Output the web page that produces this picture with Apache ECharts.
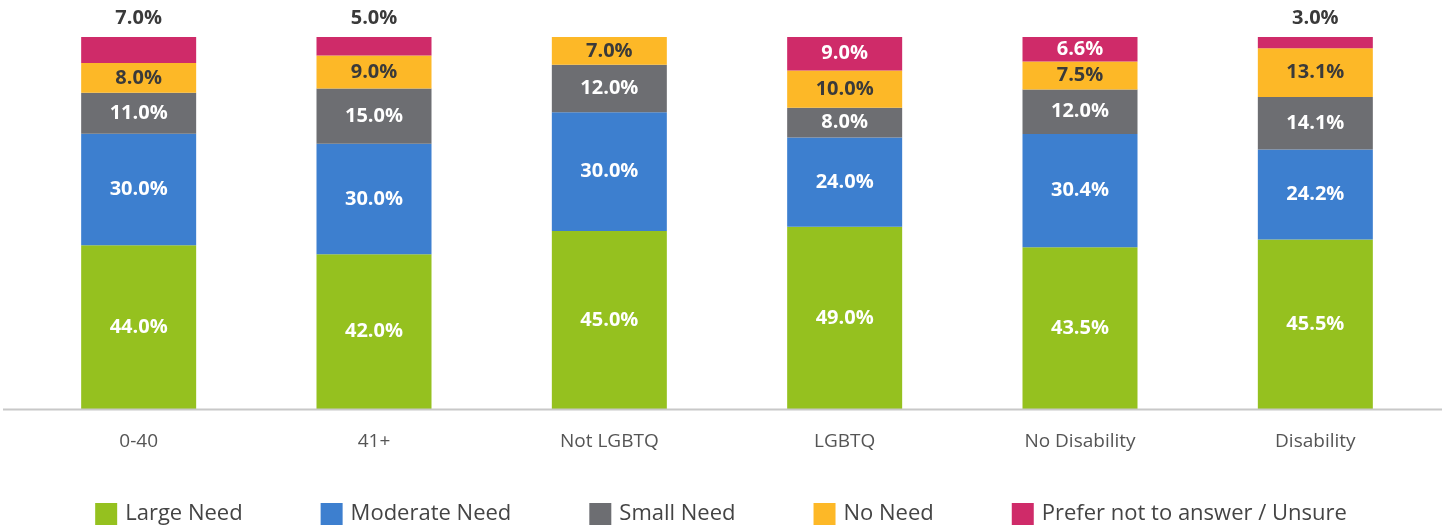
<!DOCTYPE html>
<html>
<head>
<meta charset="utf-8">
<title>Need by group</title>
<style>
  html, body { margin: 0; padding: 0; background: #fff; }
  #main { width: 1442px; height: 529px; }
</style>
</head>
<body>
<div id="main"></div>
<script src="https://cdn.jsdelivr.net/npm/echarts@6/dist/echarts.min.js"></script>
<script>
// data (labels are the raw shares; bars are drawn as 100% stacks)
var categories   = ['0-40', '41+', 'Not LGBTQ', 'LGBTQ', 'No Disability', 'Disability'];
var largeNeed    = [44.0, 42.0, 45.0, 49.0, 43.5, 45.5];
var moderateNeed = [30.0, 30.0, 30.0, 24.0, 30.4, 24.2];
var smallNeed    = [11.0, 15.0, 12.0, 8.0, 12.0, 14.1];
var noNeed       = [8.0, 9.0, 7.0, 10.0, 7.5, 13.1];
var preferNot    = [7.0, 5.0, null, 9.0, 6.6, 3.0];

var seriesNames = ['Large Need', 'Moderate Need', 'Small Need', 'No Need', 'Prefer not to answer / Unsure'];
var seriesData  = [largeNeed, moderateNeed, smallNeed, noNeed, preferNot];
var colors      = ['#95c11f', '#3d7fcf', '#6d6e72', '#fdb827', '#cf2b69'];
var labelColors = ['#fff', '#fff', '#fff', '#3a3a3a', '#fff'];
// segments whose label sits above the bar
var labelAbove  = { 4: [0, 1, 5] };

var totals = categories.map(function (c, i) {
    var s = 0;
    seriesData.forEach(function (arr) { s += arr[i] || 0; });
    return s;
});

var font = '"Open Sans", Lato, sans-serif';

var series = seriesData.map(function (arr, k) {
    return {
        name: seriesNames[k],
        type: 'bar',
        stack: 'all',
        barWidth: 115,
        itemStyle: { color: colors[k] },
        label: {
            show: true,
            position: 'inside',
            color: labelColors[k],
            fontFamily: font,
            fontWeight: 'bold',
            fontSize: 20,
            formatter: function (p) { return p.data.raw.toFixed(1) + '%'; }
        },
        data: arr.map(function (v, i) {
            if (v == null) return null;
            var item = { value: v / totals[i] * 100, raw: v };
            if (labelAbove[k] && labelAbove[k].indexOf(i) >= 0) {
                item.label = { position: 'top', distance: 9, color: '#3a3a3a' };
            }
            return item;
        })
    };
});

var myChart = echarts.init(document.getElementById('main'));
var option = {
    animation: false,
    grid: { left: 21, right: 9, top: 37, bottom: 120 },
    legend: {
        top: 503,
        left: 'center',
        padding: 0,
        itemWidth: 22,
        itemHeight: 22,
        itemGap: 78,
        icon: 'rect',
        textStyle: { fontFamily: font, fontSize: 22, color: '#444', padding: [0, 0, 0, 3] },
        data: seriesNames
    },
    xAxis: {
        type: 'category',
        data: categories,
        axisTick: { show: false },
        axisLine: { show: false },
        axisLabel: { margin: 23, fontFamily: font, fontSize: 19, color: '#555' }
    },
    yAxis: { type: 'value', min: 0, max: 100, show: false, splitLine: { show: false } },
    graphic: [{
        type: 'line',
        z: 100,
        shape: { x1: 3, y1: 409.5, x2: 1442, y2: 409.5 },
        style: { stroke: '#c8c8c8', lineWidth: 2 }
    }],
    series: series
};
myChart.setOption(option);
</script>
</body>
</html>
